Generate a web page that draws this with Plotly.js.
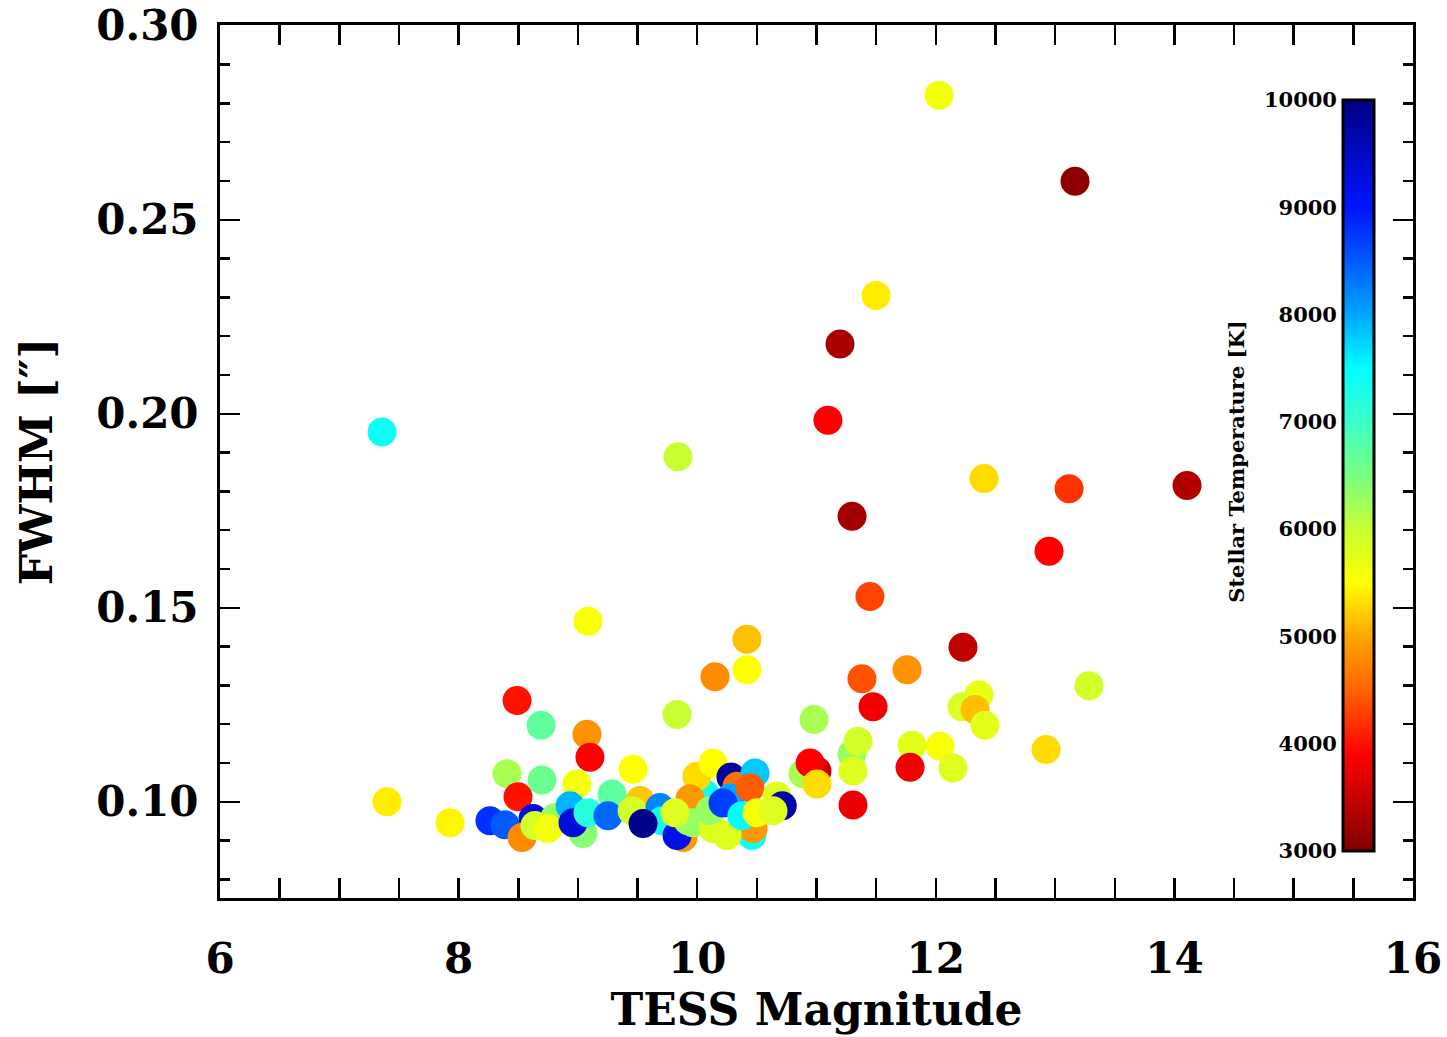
<!DOCTYPE html>
<html>
<head>
<meta charset="utf-8">
<script src="https://cdn.plot.ly/plotly-3.0.1.min.js"></script>
<style>html,body{margin:0;padding:0;background:#fff;}#chart{width:1447px;height:1037px;}</style>
</head>
<body>
<div id="chart"></div>
<script>
// TESS magnitude of each star
const tessMag = [
  7.358, 7.400, 7.928, 12.027, 13.167, 11.499, 11.197, 11.096, 11.298, 12.404,
  13.117, 14.106, 12.949, 9.839, 11.448, 9.085, 12.228, 10.417, 10.149, 10.417,
  11.759, 11.381, 11.474, 13.284, 12.362, 12.220, 12.329, 12.412, 8.490, 8.691,
  9.076, 9.101, 9.831, 10.979, 11.298, 11.348, 11.306, 11.004, 10.887, 10.946,
  11.004, 11.306, 11.801, 12.035, 11.784, 12.144, 12.924,
  8.406, 8.699, 8.498, 9.462, 8.992, 9.286, 8.263, 8.624, 8.389, 8.531,
  8.808, 8.640, 8.749, 8.934, 9.043, 8.959, 9.085, 9.252, 9.521, 9.454,
  9.688, 9.705, 9.881, 9.831, 9.923, 9.546, 10.065, 9.998, 10.132, 9.940,
  9.965, 10.132, 10.107, 9.814, 10.283, 10.334, 10.485, 10.275, 10.443, 10.216,
  10.459, 10.468, 10.250, 10.375, 10.669, 10.713, 10.501, 10.635
];
// FWHM in arcseconds
const fwhm = [
  0.1953, 0.1000, 0.0946, 0.2821, 0.2599, 0.2305, 0.2180, 0.1983, 0.1736, 0.1833,
  0.1807, 0.1815, 0.1646, 0.1889, 0.1529, 0.1465, 0.1398, 0.1419, 0.1322, 0.1340,
  0.1340, 0.1317, 0.1245, 0.1299, 0.1276, 0.1245, 0.1238, 0.1197, 0.1261, 0.1197,
  0.1174, 0.1115, 0.1225, 0.1212, 0.1123, 0.1156, 0.1079, 0.1079, 0.1072, 0.1100,
  0.1046, 0.0992, 0.1146, 0.1143, 0.1089, 0.1087, 0.1135,
  0.1072, 0.1056, 0.1013, 0.1084, 0.1046, 0.1020, 0.0951, 0.0957, 0.0941, 0.0908,
  0.0959, 0.0939, 0.0931, 0.0990, 0.0918, 0.0946, 0.0972, 0.0964, 0.1003, 0.0977,
  0.0985, 0.0951, 0.0908, 0.0913, 0.0951, 0.0944, 0.1020, 0.1066, 0.1100, 0.1008,
  0.0946, 0.0931, 0.0977, 0.0972, 0.1064, 0.1040, 0.1074, 0.1010, 0.1036, 0.0997,
  0.0913, 0.0931, 0.0913, 0.0964, 0.1015, 0.0990, 0.0972, 0.0977
];
// Stellar temperature [K]
const teff = [
  7400, 5400, 5450, 5600, 3100, 5400, 3300, 3900, 3250, 5300,
  4200, 3350, 3900, 6000, 4300, 5550, 3450, 5150, 4800, 5500,
  4850, 4400, 3800, 5900, 5700, 5850, 5150, 5750, 4000, 6700,
  4850, 3900, 6000, 6200, 6300, 5900, 5800, 3500, 6200, 3900,
  5300, 3750, 5750, 5550, 3800, 5800, 5300,
  6200, 6600, 4000, 5500, 5600, 6700, 8800, 9300, 8500, 4800,
  6300, 5900, 5600, 7900, 6400, 9300, 7200, 8400, 5200, 5900,
  8200, 7400, 4900, 9200, 6300, 9900, 7400, 5300, 5500, 4900,
  6300, 5800, 6300, 5800, 9800, 4600, 7800, 8000, 4450, 8700,
  7400, 4900, 5800, 7500, 5800, 9700, 5600, 5800
];
const yTickVals = [0.10, 0.15, 0.20, 0.25, 0.30];
const yTickText = ['0.10', '0.15', '0.20', '0.25', '0.30'];
const xTickVals = [6, 8, 10, 12, 14, 16];
const cbTickVals = [3000, 4000, 5000, 6000, 7000, 8000, 9000, 10000];
const cbTickText = ['3000', '4000', '5000', '6000', '7000', '8000', '9000', '10000'];

const idlJet = [
  [0.0, 'rgb(128,0,0)'],
  [0.0714, 'rgb(200,0,0)'],
  [0.1286, 'rgb(255,0,0)'],
  [0.2143, 'rgb(255,100,0)'],
  [0.2857, 'rgb(255,165,0)'],
  [0.3571, 'rgb(255,255,0)'],
  [0.4286, 'rgb(200,255,50)'],
  [0.5, 'rgb(120,255,130)'],
  [0.5714, 'rgb(60,255,200)'],
  [0.6429, 'rgb(0,255,255)'],
  [0.7143, 'rgb(0,165,255)'],
  [0.7857, 'rgb(0,90,255)'],
  [0.8571, 'rgb(0,20,255)'],
  [1.0, 'rgb(0,0,130)']
];

const FONT = 'DejaVu Serif, Liberation Serif, serif';

const trace = {
  type: 'scatter',
  mode: 'markers',
  x: tessMag,
  y: fwhm,
  marker: {
    size: 29,
    color: teff,
    cmin: 3000,
    cmax: 10000,
    colorscale: idlJet,
    line: {width: 0},
    opacity: 1,
    colorbar: {
      x: 0.9413, xanchor: 'left', xref: 'paper',
      y: 0.48396, yanchor: 'middle',
      len: 0.8603, lenmode: 'fraction',
      thickness: 31,
      xpad: 0, ypad: 0,
      outlinewidth: 3, outlinecolor: '#000',
      showticklabels: false,
      ticks: ''
    }
  },
  showlegend: false,
  hoverinfo: 'x+y'
};

// empty helper trace so the colour-bar label axis (yaxis2) is created
const cbAxisTrace = {
  type: 'scatter', mode: 'markers', x: [], y: [], yaxis: 'y2',
  showlegend: false, hoverinfo: 'skip'
};

const axisCommon = {
  showline: true, linewidth: 3, linecolor: '#000',
  mirror: 'allticks', ticks: 'inside', ticklen: 20, tickwidth: 2.5, tickcolor: '#000',
  showgrid: false, zeroline: false,
  ticklabeloverflow: 'allow',
  tickfont: {family: FONT, size: 42, color: '#000', weight: 'bold'}
};

const layout = {
  width: 1447, height: 1037,
  margin: {l: 220, r: 34, t: 25, b: 139},
  paper_bgcolor: '#fff', plot_bgcolor: '#fff',
  font: {family: FONT, color: '#000'},
  xaxis: Object.assign({}, axisCommon, {
    range: [6, 16],
    tickvals: xTickVals,
    ticklabelstandoff: 22,
    minor: {dtick: 0.5, tick0: 6, ticks: 'inside', ticklen: 10, tickwidth: 2.5, tickcolor: '#000', showgrid: false},
    title: {text: 'TESS Magnitude', font: {family: FONT, size: 44, color: '#000', weight: 'bold'}, standoff: 12}
  }),
  yaxis: Object.assign({}, axisCommon, {
    range: [0.0752, 0.3002],
    tickvals: yTickVals,
    ticktext: yTickText,
    ticklabelstandoff: 10,
    minor: {dtick: 0.01, tick0: 0, ticks: 'inside', ticklen: 10, tickwidth: 2.5, tickcolor: '#000', showgrid: false},
    title: {text: 'FWHM [″]', font: {family: FONT, size: 44, color: '#000', weight: 'bold'}, standoff: 30}
  }),
  yaxis2: {
    overlaying: 'y', anchor: 'free', position: 0.9413, side: 'left',
    range: [2561.9, 10699.1],
    tickvals: cbTickVals, ticktext: cbTickText,
    showline: false, showgrid: false, zeroline: false, ticks: '',
    ticklabelstandoff: 6,
    tickfont: {family: FONT, size: 21, color: '#000', weight: 'bold'},
    title: {text: 'Stellar Temperature [K]', font: {family: FONT, size: 21, color: '#000', weight: 'bold'}, standoff: 12},
    fixedrange: true
  }
};

Plotly.newPlot('chart', [cbAxisTrace, trace], layout, {displayModeBar: false, staticPlot: true});
</script>
</body>
</html>
